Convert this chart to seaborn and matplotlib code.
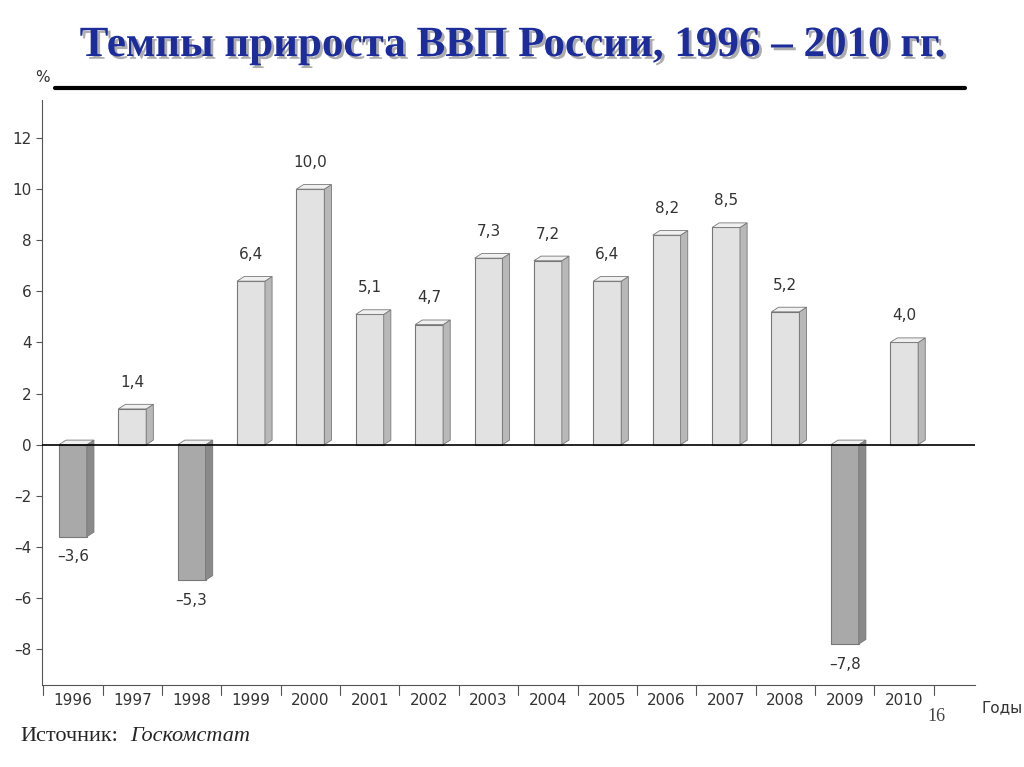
import matplotlib
matplotlib.use("Agg")
import matplotlib.pyplot as plt
import matplotlib.patheffects as pe
from matplotlib.patches import Polygon
import seaborn as sns
import pandas as pd

years = ["1996", "1997", "1998", "1999", "2000", "2001", "2002", "2003",
         "2004", "2005", "2006", "2007", "2008", "2009", "2010"]
growth = [-3.6, 1.4, -5.3, 6.4, 10.0, 5.1, 4.7, 7.3, 7.2, 6.4, 8.2, 8.5, 5.2, -7.8, 4.0]
y_ticks = [-8, -6, -4, -2, 0, 2, 4, 6, 8, 10, 12]

df = pd.DataFrame({"year": years, "growth": growth})
colors = ["#a9a9a9" if v < 0 else "#e2e2e2" for v in growth]

sns.set_style("white")
fig = plt.figure(figsize=(10.24, 7.67), dpi=100)
ax = fig.add_axes([0.041, 0.107, 0.911, 0.763])
sns.barplot(data=df, x="year", y="growth", hue="year", palette=colors,
            legend=False, width=0.47, edgecolor="#777777", linewidth=0.8, ax=ax)

# fake 3D side/top faces
dx, dy = 0.12, 0.18
for bar, v in zip(ax.patches, growth):
    x0, w = bar.get_x(), bar.get_width()
    x1 = x0 + w
    top = max(v, 0)
    bot = min(v, 0)
    side = "#8a8a8a" if v < 0 else "#b8b8b8"
    ax.add_patch(Polygon([(x1, bot), (x1 + dx, bot + dy), (x1 + dx, top + dy), (x1, top)],
                         closed=True, fc=side, ec="#777777", lw=0.6, zorder=3))
    ax.add_patch(Polygon([(x0, top), (x0 + dx, top + dy), (x1 + dx, top + dy), (x1, top)],
                         closed=True, fc="#f0f0f0", ec="#777777", lw=0.6, zorder=3))
    lab = f"{v:.1f}".replace(".", ",").replace("-", "–")
    if v >= 0:
        ax.text(x0 + w / 2, v + 0.75, lab, ha="center", va="bottom", fontsize=11, color="#333333")
    else:
        ax.text(x0 + w / 2, v - 0.5, lab, ha="center", va="top", fontsize=11, color="#333333")

ax.axhline(0, color="black", lw=1.2, zorder=4)
ax.set_xlim(-0.52, 15.19)
ax.set_ylim(-9.4, 13.5)
ax.set_yticks(y_ticks)
ax.set_yticklabels([str(t).replace("-", "–") for t in y_ticks], fontsize=11, color="#333333")
ax.tick_params(axis="x", labelsize=11, labelcolor="#333333", length=0, pad=6)
ax.tick_params(axis="y", length=4, direction="out", color="#555555", left=True)
ax.set_xticks(range(len(years)), minor=False)
for i in range(len(years) + 1):
    ax.plot([i - 0.5, i - 0.5], [-9.4, -9.8], color="#555555", lw=0.8, clip_on=False)
ax.set_xlabel("")
ax.set_ylabel("")
for s in ["top", "right"]:
    ax.spines[s].set_visible(False)
ax.spines["left"].set_color("#555555")
ax.spines["bottom"].set_color("#555555")
ax.text(-0.52, 14.2, "%", ha="center", fontsize=11, color="#333333")
ax.text(15.3, -10.3, "Годы", ha="left", va="center", fontsize=11, color="#333333", clip_on=False)

fig.text(0.5, 0.94, "Темпы прироста ВВП России, 1996 – 2010 гг.", ha="center", va="center",
         fontsize=31, fontweight="bold", family="Liberation Serif", color="#1c2c9a",
         path_effects=[pe.withSimplePatchShadow(offset=(2, -2), shadow_rgbFace="#999999", alpha=0.8)])
fig.add_artist(plt.Line2D([0.054, 0.942], [0.885, 0.885], color="black", lw=3))
fig.text(0.02, 0.028, "Источник:", fontsize=16, family="Liberation Serif", va="bottom")
fig.text(0.127, 0.028, "Госкомстат", fontsize=16, family="Liberation Serif", style="italic", va="bottom")
fig.text(0.906, 0.06, "16", fontsize=13, family="Liberation Serif", color="#444444")

fig.savefig("out.png", dpi=100)
